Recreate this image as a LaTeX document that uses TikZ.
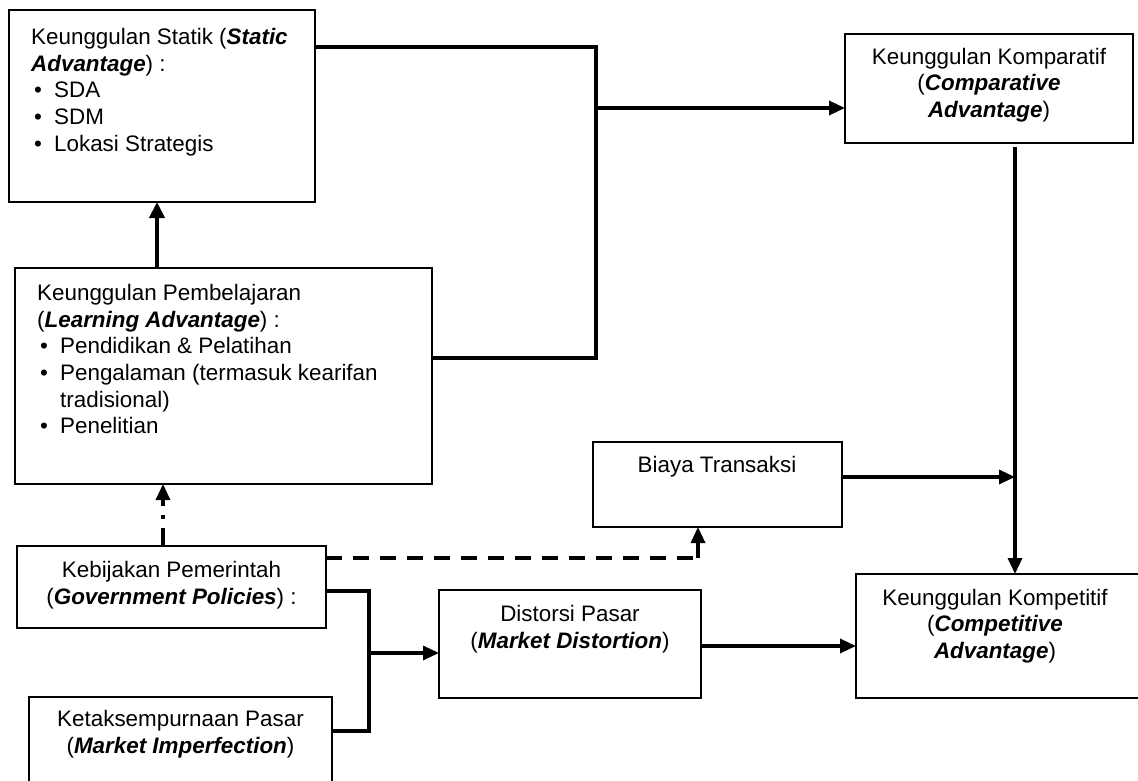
\documentclass[tikz,border=0pt]{standalone}
\usepackage{fontspec}
\setmainfont{Liberation Sans}
\usetikzlibrary{arrows.meta}
\newcommand{\bi}[1]{\textbf{\textit{#1}}}
\newcommand{\bul}{\hspace*{3pt}\makebox[20pt][l]{\textbullet}}
\begin{document}
\begin{tikzpicture}[x=1pt,y=-1pt,
  box/.style={draw, line width=1.7pt, rectangle, anchor=north west, inner sep=0pt, outer sep=0pt},
  txt/.style={inner sep=0pt, font=\fontsize{22.4}{26.7}\selectfont},
  conn/.style={line width=3.3pt},
  arr/.style={line width=3.3pt, -{Triangle[length=16pt,width=14pt]}},
  dashline/.style={line width=3.3pt, dash pattern=on 16pt off 11pt},
  dotdash/.style={line width=3.3pt, dash pattern=on 18pt off 9pt on 4pt off 9pt, -{Triangle[length=16pt,width=14pt]}}
]
\useasboundingbox (0,0) rectangle (1138,781);
\clip (0,0) rectangle (1138,781);
\fill[white] (0,0) rectangle (1138,781);

% boxes
\node[box, minimum width=306pt, minimum height=192pt] (stat) at (9,10) {};
\node[box, minimum width=417pt, minimum height=216pt] (learn) at (15,268) {};
\node[box, minimum width=288pt, minimum height=109pt] (kom) at (845,34) {};
\node[box, minimum width=249pt, minimum height=85pt] (biaya) at (593,442) {};
\node[box, minimum width=309pt, minimum height=82pt] (gov) at (17,546) {};
\node[box, minimum width=303pt, minimum height=120pt] (imp) at (29,697) {};
\node[box, minimum width=262pt, minimum height=108pt] (dist) at (439,590) {};
\node[box, minimum width=290pt, minimum height=124pt] (comp) at (856,574) {};

% texts
\node[txt, anchor=north west, align=left] (tstat) at (31,28)
  {Keunggulan Statik (\bi{Static}\\
   \bi{Advantage}) :\\
   \bul SDA\\
   \bul SDM\\
   \bul Lokasi Strategis};
\node[txt, anchor=north west, align=left] (tlearn) at (37,284)
  {Keunggulan Pembelajaran\\
   (\bi{Learning Advantage}) :\\
   \bul Pendidikan \& Pelatihan\\
   \bul Pengalaman (termasuk kearifan\\
   \hspace*{23pt}tradisional)\\
   \bul Penelitian};
\node[txt, align=center] (tkom) at (989,85)
  {Keunggulan Komparatif\\(\bi{Comparative}\\\bi{Advantage})};
\node[txt] (tbiaya) at (717,467) {Biaya Transaksi};
\node[txt, align=center] (tgov) at (171.5,585)
  {Kebijakan Pemerintah\\(\bi{Government Policies}) :};
\node[txt, align=center] (timp) at (180.5,734)
  {Ketaksempurnaan Pasar\\(\bi{Market Imperfection})};
\node[txt, align=center] (tdist) at (570,629)
  {Distorsi Pasar\\(\bi{Market Distortion})};
\node[txt, align=center] (tcomp) at (995,626)
  {Keunggulan Kompetitif\\(\bi{Competitive}\\\bi{Advantage})};

% junction coordinates
\coordinate (j1) at (596,108);
\coordinate (j2) at (369,653);
\coordinate (j3) at (698,558);
\coordinate (j4) at (1015,147);
\coordinate (j5) at (1015,477);

% connectors
\draw[conn] (stat.east |- 0,47) -- (596,47) -- (596,358) -- (learn.east |- 0,358);
\draw[arr] (j1) -- (kom.west |- j1);
\draw[line width=4.5pt, -{Triangle[length=16pt,width=15pt]}] (learn.north -| 157,0) -- (stat.south -| 157,0);
\draw[dotdash] (gov.north -| 163,0) -- (learn.south -| 163,0);
\draw[dashline] (gov.east |- j3) -- (j3);
\draw[arr] (j3) -- (biaya.south -| j3);
\draw[conn] (gov.east |- 0,591) -- (369,591) -- (369,731) -- (imp.east |- 0,731);
\draw[arr] (j2) -- (dist.west |- j2);
\draw[arr] (dist.east |- 0,646) -- (comp.west |- 0,646);
\draw[arr] (biaya.east |- j5) -- (j5);
\draw[arr] (j4) -- (comp.north -| j4);
\end{tikzpicture}
\end{document}
